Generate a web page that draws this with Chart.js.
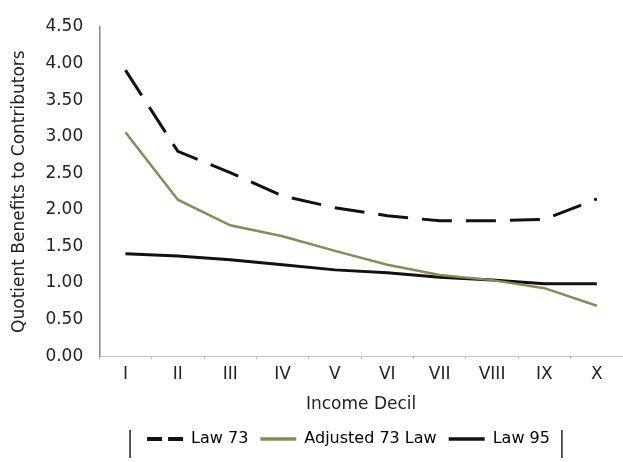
<!DOCTYPE html>
<html>
<head>
<meta charset="utf-8">
<script src="https://cdn.jsdelivr.net/npm/chart.js@4"></script>
<style>
  body { margin: 0; background: #fff; }
  #wrap { width: 623px; height: 462px; }
</style>
</head>
<body>
<div id="wrap"><canvas id="chart"></canvas></div>
<script>
var deciles = ['I', 'II', 'III', 'IV', 'V', 'VI', 'VII', 'VIII', 'IX', 'X'];
var law73 = [3.91, 2.80, 2.51, 2.19, 2.03, 1.92, 1.85, 1.85, 1.87, 2.15];
var adjusted73 = [3.06, 2.14, 1.79, 1.64, 1.44, 1.25, 1.11, 1.04, 0.93, 0.69];
var law95 = [1.40, 1.37, 1.32, 1.25, 1.18, 1.14, 1.08, 1.04, 0.99, 0.99];

var font = { family: '"DejaVu Sans", sans-serif', size: 17 };
var legendFont = { family: '"DejaVu Sans", sans-serif', size: 16 };

// move the legend under the plot area and draw the bars at its ends
var legendBars = {
    id: 'legendBars',
    afterLayout: function (chart) {
        chart.legend.left += 37;
        chart.legend.right += 37;
    },
    afterDraw: function (chart) {
        var boxes = chart.legend.legendHitBoxes;
        if (!boxes || !boxes.length) return;
        var first = boxes[0];
        var last = boxes[boxes.length - 1];
        var ctx = chart.ctx;
        ctx.save();
        ctx.strokeStyle = '#222';
        ctx.lineWidth = 1.5;
        ctx.beginPath();
        ctx.moveTo(first.left - 17, 430);
        ctx.lineTo(first.left - 17, 458);
        ctx.moveTo(last.left + last.width + 12, 430);
        ctx.lineTo(last.left + last.width + 12, 458);
        ctx.stroke();
        ctx.restore();
    }
};

new Chart(document.getElementById('chart').getContext('2d'), {
    type: 'line',
    data: {
        labels: deciles,
        datasets: [{
            label: 'Law 73',
            data: law73,
            borderColor: '#111',
            borderWidth: 3,
            borderDash: [30, 14],
            pointRadius: 0,
            tension: 0
        }, {
            label: 'Adjusted 73 Law',
            data: adjusted73,
            borderColor: '#8c885c',
            borderWidth: 2.5,
            pointRadius: 0,
            tension: 0
        }, {
            label: 'Law 95',
            data: law95,
            borderColor: '#111',
            borderWidth: 3,
            pointRadius: 0,
            tension: 0
        }]
    },
    options: {
        responsive: true,
        maintainAspectRatio: false,
        animation: false,
        layout: { padding: { left: 0, right: 0, top: 27, bottom: 5 } },
        scales: {
            x: {
                offset: true,
                grid: { drawOnChartArea: false, offset: true, tickLength: 3, color: '#bbb' },
                border: { color: '#c4c4c4' },
                ticks: { font: font, color: '#222', padding: 5 },
                title: { display: true, text: 'Income Decil', font: font, color: '#222', padding: { top: 5, bottom: 4 } }
            },
            y: {
                min: 0,
                max: 4.5,
                grid: { display: false },
                border: { color: '#888', width: 1.5 },
                ticks: {
                    stepSize: 0.5,
                    font: font,
                    color: '#222',
                    padding: 8,
                    callback: function (v) { return v.toFixed(2); }
                },
                title: { display: true, text: 'Quotient Benefits to Contributors', font: font, color: '#222', padding: { top: 9, bottom: 8 } }
            }
        },
        plugins: {
            legend: {
                position: 'bottom',
                labels: {
                    font: legendFont,
                    color: '#222',
                    usePointStyle: true,
                    pointStyle: 'line',
                    pointStyleWidth: 36,
                    boxWidth: 36,
                    padding: 12,
                    generateLabels: function (chart) {
                        return chart.data.datasets.map(function (ds, i) {
                            return {
                                text: ds.label,
                                strokeStyle: ds.borderColor,
                                fillStyle: ds.borderColor,
                                lineWidth: ds.borderDash ? 4 : 3.5,
                                lineDash: ds.borderDash ? [15, 6] : [],
                                pointStyle: 'line',
                                datasetIndex: i,
                                hidden: false
                            };
                        });
                    }
                }
            },
            tooltip: { enabled: false }
        }
    },
    plugins: [legendBars]
});
</script>
</body>
</html>
